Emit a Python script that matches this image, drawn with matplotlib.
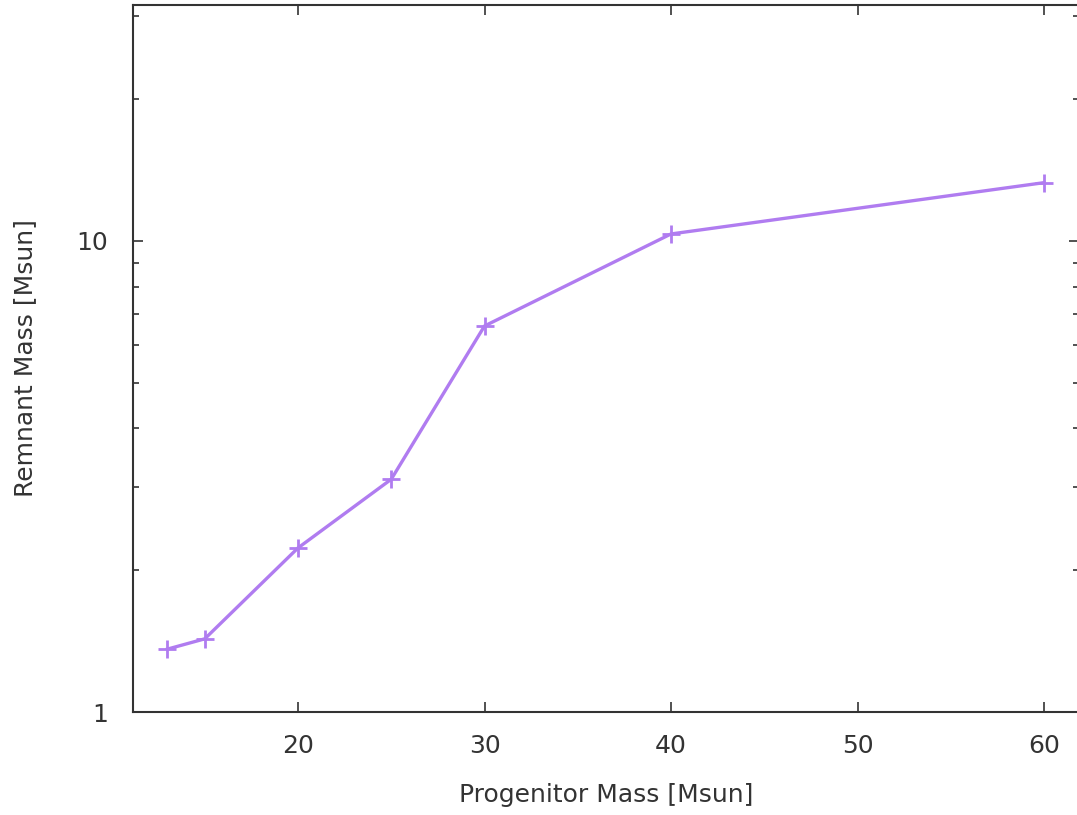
import matplotlib
matplotlib.use("Agg")
import matplotlib.pyplot as plt
from matplotlib.ticker import FixedLocator, NullFormatter

progenitor_mass = [13, 15, 20, 25, 30, 40, 60]
remnant_mass = [1.36, 1.43, 2.23, 3.12, 6.6, 10.35, 13.3]
x_ticks = [20, 30, 40, 50, 60]
y_major = [1, 10]
y_minor = [2, 3, 4, 5, 6, 7, 8, 9, 20, 30]

W, H = 1077, 815
fig = plt.figure(figsize=(W / 100, H / 100), dpi=100)
left, right, bottom, top = 133, 1079, 712, 5
ax = fig.add_axes([left / W, 1 - bottom / H, (right - left) / W, (bottom - top) / H])

ax.plot(progenitor_mass, remnant_mass, color="#b07cf0", lw=2.4, marker="+",
        ms=13, mew=2, solid_joinstyle="round")

ax.set_yscale("log")
ppx = (1044 - 298) / 40.0
ax.set_xlim(20 - (298 - left) / ppx, 60 + (right - 1044) / ppx)
ax.set_ylim(1, 10 ** ((712 - 5) / 471.0))

ax.xaxis.set_major_locator(FixedLocator(x_ticks))
ax.xaxis.set_minor_locator(FixedLocator([]))
ax.yaxis.set_major_locator(FixedLocator(y_major))
ax.yaxis.set_minor_locator(FixedLocator(y_minor))
ax.yaxis.set_minor_formatter(NullFormatter())
ax.set_yticklabels(["1", "10"])
ax.set_xticklabels([str(v) for v in x_ticks])

ax.tick_params(which="both", direction="in", top=True, right=True, color="#333333",
               width=1.2, labelsize=18, labelcolor="#333333")
ax.tick_params(which="major", length=7)
ax.tick_params(which="minor", length=4)
ax.tick_params(axis="y", which="major", pad=18)
ax.tick_params(axis="x", which="major", pad=16)
for s in ax.spines.values():
    s.set_linewidth(1.5)
    s.set_color("#333333")

ax.set_xlabel("Progenitor Mass [Msun]", fontsize=18, color="#333333", labelpad=18)
ax.set_ylabel("Remnant Mass [Msun]", fontsize=18, color="#333333", labelpad=28)

fig.savefig("out.png", dpi=100)
